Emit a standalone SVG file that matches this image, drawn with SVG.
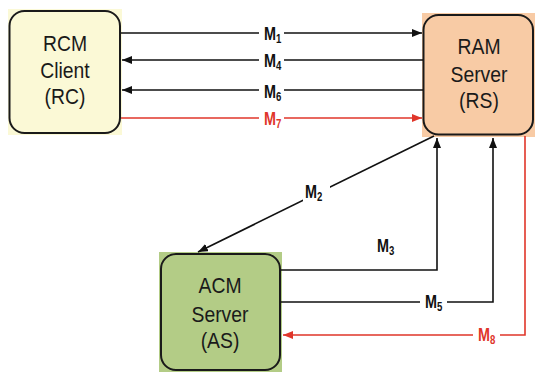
<svg xmlns="http://www.w3.org/2000/svg" width="535" height="372" viewBox="0 0 535 372">
  <defs>
    <marker id="ah" viewBox="0 0 10 8" refX="10" refY="4" markerWidth="10" markerHeight="8" markerUnits="userSpaceOnUse" orient="auto">
      <path d="M0,0 L10,4 L0,8 Z" fill="#111"/>
    </marker>
    <marker id="ahr" viewBox="0 0 10 8" refX="10" refY="4" markerWidth="10" markerHeight="8" markerUnits="userSpaceOnUse" orient="auto">
      <path d="M0,0 L10,4 L0,8 Z" fill="#e0362a"/>
    </marker>
  </defs>
  <style>
    .box { stroke: #1a1a1a; stroke-width: 2; }
    .name { font-family: "Liberation Sans", Arial, sans-serif; font-size: 22px; fill: #1a1a1a; text-anchor: middle; }
    .ln { fill: none; stroke: #111; stroke-width: 1.6; }
    .red { stroke: #e0362a; }
    .lbl { font-family: "Liberation Sans", Arial, sans-serif; font-weight: bold; font-size: 18px; fill: #111; }
    .lbl.r { fill: #e0362a; }
    .sub { font-size: 12px; }
    .gap { fill: #fff; }
  </style>

  <rect width="535" height="372" fill="#fff"/>

  <!-- RCM Client -->
  <g id="rc">
    <rect x="8" y="9" width="114" height="126" fill="#fbf9d6"/>
    <rect class="box" x="9.5" y="11" width="110.5" height="122" rx="15" fill="#fbf9d6"/>
    <g class="name">
      <text transform="translate(65,51) scale(0.88,1)">RCM</text>
      <text transform="translate(65,78) scale(0.88,1)">Client</text>
      <text transform="translate(65,104) scale(0.88,1)">(RC)</text>
    </g>
  </g>

  <!-- RAM Server -->
  <g id="rs">
    <rect x="422" y="13" width="113" height="124" fill="#f8cba5"/>
    <rect class="box" x="423.5" y="15" width="109.5" height="119.5" rx="15" fill="#f8cba5"/>
    <g class="name">
      <text transform="translate(479,54) scale(0.88,1)">RAM</text>
      <text transform="translate(479,82) scale(0.88,1)">Server</text>
      <text transform="translate(479,108) scale(0.88,1)">(RS)</text>
    </g>
  </g>

  <!-- ACM Server -->
  <g id="as">
    <rect x="159" y="252" width="123" height="120" fill="#b3cc86"/>
    <rect class="box" x="161" y="254" width="119" height="116" rx="15" fill="#b3cc86"/>
    <g class="name">
      <text transform="translate(220,293) scale(0.88,1)">ACM</text>
      <text transform="translate(220,322) scale(0.88,1)">Server</text>
      <text transform="translate(220,348) scale(0.88,1)">(AS)</text>
    </g>
  </g>

  <!-- message connectors -->
  <g id="connectors">
    <line class="ln" x1="121" y1="33" x2="422" y2="33" marker-end="url(#ah)"/>
    <line class="ln" x1="423" y1="60" x2="122" y2="60" marker-end="url(#ah)"/>
    <line class="ln" x1="423" y1="90" x2="122" y2="90" marker-end="url(#ah)"/>
    <line class="ln red" x1="121" y1="118" x2="422" y2="118" marker-end="url(#ahr)"/>
    <line class="ln" x1="434" y1="136" x2="198" y2="252" marker-end="url(#ah)"/>
    <polyline class="ln" points="281,270 437,270 437,138" marker-end="url(#ah)"/>
    <polyline class="ln" points="281,302 493,302 493,138" marker-end="url(#ah)"/>
    <polyline class="ln red" points="525,136 525,335 283,335" marker-end="url(#ahr)"/>

    <!-- labels, with white breaks in the lines -->
    <rect class="gap" x="259" y="25" width="25" height="17"/>
    <text class="lbl" transform="translate(264,40) scale(0.8,1)">M<tspan class="sub" dy="2.5">1</tspan></text>
    <rect class="gap" x="259" y="52" width="25" height="17"/>
    <text class="lbl" transform="translate(264,67) scale(0.8,1)">M<tspan class="sub" dy="2.5">4</tspan></text>
    <rect class="gap" x="259" y="82" width="25" height="17"/>
    <text class="lbl" transform="translate(264,98) scale(0.8,1)">M<tspan class="sub" dy="2.5">6</tspan></text>
    <rect class="gap" x="259" y="110" width="25" height="17"/>
    <text class="lbl r" transform="translate(264,125) scale(0.8,1)">M<tspan class="sub" dy="2.5">7</tspan></text>

    <rect class="gap" x="303" y="182" width="27" height="20"/>
    <text class="lbl" transform="translate(305,198) scale(0.8,1)">M<tspan class="sub" dy="2.5">2</tspan></text>
    <text class="lbl" transform="translate(377,252) scale(0.8,1)">M<tspan class="sub" dy="2.5">3</tspan></text>
    <rect class="gap" x="420" y="293" width="27" height="17"/>
    <text class="lbl" transform="translate(425,308) scale(0.8,1)">M<tspan class="sub" dy="2.5">5</tspan></text>
    <rect class="gap" x="473" y="326" width="27" height="17"/>
    <text class="lbl r" transform="translate(478,341) scale(0.8,1)">M<tspan class="sub" dy="2.5">8</tspan></text>
  </g>
</svg>
